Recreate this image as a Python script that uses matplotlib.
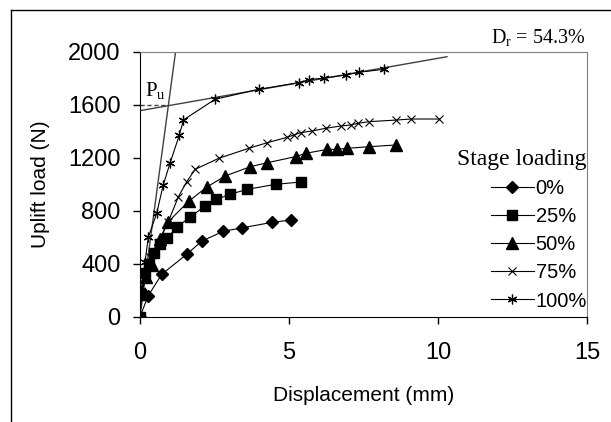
import matplotlib
matplotlib.use("Agg")
import matplotlib.pyplot as plt
from matplotlib.lines import Line2D

plt.rcParams["font.family"] = "Liberation Sans"
plt.rcParams["mathtext.fontset"] = "custom"
plt.rcParams["mathtext.rm"] = "Liberation Serif"
plt.rcParams["mathtext.it"] = "Liberation Serif:italic"

x_0 = [0, 0.28, 0.73, 1.59, 2.07, 2.80, 3.42, 4.43, 5.08]
y_0 = [0, 160, 320, 475, 570, 645, 670, 712, 730]

x_25 = [0, 0.03, 0.18, 0.29, 0.46, 0.68, 0.92, 1.23, 1.68, 2.19, 2.56, 3.03, 3.59, 4.55, 5.41]
y_25 = [0, 175, 330, 400, 480, 545, 592, 677, 750, 838, 886, 924, 961, 999, 1017]

x_50 = [0, 0.05, 0.2, 0.4, 0.67, 0.95, 1.63, 2.24, 2.86, 3.70, 4.27, 5.22, 5.56, 6.29, 6.62, 6.96, 7.69, 8.59]
y_50 = [0, 170, 300, 390, 584, 717, 870, 978, 1062, 1132, 1162, 1208, 1233, 1263, 1263, 1271, 1283, 1296]

x_75 = [0, 0.05, 0.15, 0.35, 0.6, 0.95, 1.29, 1.57, 1.85, 2.64, 3.65, 4.27, 4.94, 5.16, 5.39, 5.78,
        6.23, 6.73, 7.07, 7.30, 7.69, 8.59, 9.09, 10.04]
y_75 = [0, 170, 330, 450, 560, 717, 906, 1019, 1112, 1195, 1271, 1313, 1354, 1371, 1389, 1402,
        1422, 1439, 1447, 1459, 1472, 1484, 1492, 1492]

x_100 = [0, 0.05, 0.17, 0.28, 0.56, 0.78, 1.01, 1.32, 1.46, 2.52, 3.98, 5.33, 5.67, 6.17, 6.9, 7.35, 8.19]
y_100 = [0, 200, 415, 600, 780, 994, 1160, 1371, 1485, 1641, 1716, 1766, 1790, 1800, 1824, 1845, 1867]

labels = ["0%", "25%", "50%", "75%", "100%"]

# Tangenten fuer P_u
tan1_x = [0, 1.2]
tan1_y = [0, 2010]
tan2_x = [0, 10.3]
tan2_y = [1555, 1962]
pu_x = [0, 0.95]
pu_y = [1595, 1595]

fig = plt.figure(figsize=(6.11, 4.22), dpi=100)
ax = fig.add_axes([0.2291, 0.2495, 0.7316, 0.628])

ax.plot(tan1_x, tan1_y, color="#404040", lw=1.0)
ax.plot(tan2_x, tan2_y, color="#404040", lw=1.0)
ax.plot(pu_x, pu_y, color="#404040", lw=1.0, ls=(0, (3, 2)))

ax.plot(x_0, y_0, color="black", lw=0.8, marker="D", ms=6.5, label=labels[0])
ax.plot(x_25, y_25, color="black", lw=0.8, marker="s", ms=7, label=labels[1])
ax.plot(x_50, y_50, color="black", lw=0.8, marker="^", ms=8, label=labels[2])
ax.plot(x_75, y_75, color="black", lw=0.8, marker="x", ms=5.5, mew=0.8, label=labels[3])
ax.plot(x_100, y_100, color="black", lw=0.8, marker=(6, 2, 0), ms=7, mew=0.9, label=labels[4])

ax.set_xlim(0, 15)
ax.set_ylim(0, 2000)
ax.set_xticks([0, 5, 10, 15])
ax.set_yticks([0, 400, 800, 1200, 1600, 2000])
ax.tick_params(direction="out", length=5, width=1, labelsize=17)
ax.tick_params(axis="x", pad=13)
ax.tick_params(axis="y", pad=9)
ax.spines["top"].set_color("#808080")
ax.spines["right"].set_color("#808080")
ax.set_xlabel("Displacement (mm)", fontsize=15, labelpad=16)
ax.set_ylabel("Uplift load (N)", fontsize=15, labelpad=13)

ax.text(0.18, 1665, r"P$_\mathrm{u}$", fontsize=15, fontfamily="Liberation Serif", va="baseline")
fig.text(586 / 611, 1 - 43 / 422, r"D$_\mathrm{r}$ = 54.3%", fontsize=14.5,
         fontfamily="Liberation Serif", ha="right", va="baseline")

leg = ax.legend(loc="upper right", bbox_to_anchor=(1.0, 0.632), frameon=False, fontsize=14.5,
                title="Stage loading", alignment="right", handlelength=2.1, handletextpad=0.1,
                labelspacing=0.45, borderpad=0, borderaxespad=0)
leg.get_title().set_fontfamily("Liberation Serif")
leg.get_title().set_fontsize(17)

# Rahmen um das ganze Bild
fig.add_artist(Line2D([11 / 611, 1.0], [1 - 10 / 422, 1 - 10 / 422], transform=fig.transFigure, color="black", lw=1))
fig.add_artist(Line2D([11 / 611, 11 / 611], [0, 1 - 10 / 422], transform=fig.transFigure, color="black", lw=1))

fig.savefig("out.png", dpi=100)
